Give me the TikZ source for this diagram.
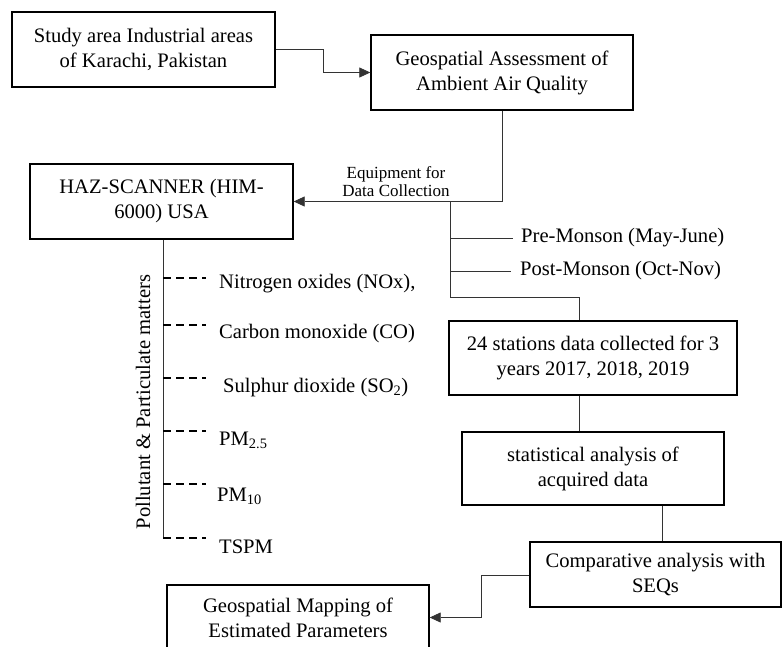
\documentclass[tikz,border=0pt]{standalone}
\usepackage{fontspec}
\setmainfont{Liberation Serif}
\usetikzlibrary{arrows.meta}

\begin{document}
\begin{tikzpicture}[x=1pt,y=-1pt,
    font=\fontsize{20.6}{25}\selectfont,
    box/.style={draw,line width=1.4pt,align=center,inner sep=0pt},
    conn/.style={line width=0.8pt,black!80},
    arr/.style={conn,-{Triangle[length=11pt,width=10pt]}},
    tick/.style={line width=1.4pt,dash pattern=on 8pt off 5pt}]
    \clip (0,0) rectangle (782,646);

    % boxes
    \node[box,minimum width=263pt,minimum height=75pt] (study) at (143.5,49.5) {Study area Industrial areas\\of Karachi, Pakistan};
    \node[box,minimum width=262pt,minimum height=75pt] (assess) at (502,72.5) {Geospatial Assessment of\\Ambient Air Quality};
    \node[box,minimum width=263pt,minimum height=75pt] (haz) at (161.5,201.5) {HAZ-SCANNER (HIM-\\6000) USA};
    \node[box,minimum width=288pt,minimum height=74pt] (stations) at (593,358) {24 stations data collected for 3\\years 2017, 2018, 2019};
    \node[box,minimum width=262pt,minimum height=73pt] (stat) at (593,468.5) {statistical analysis of\\acquired data};
    \node[box,minimum width=251pt,minimum height=65pt] (comp) at (655.5,574.5) {Comparative analysis with\\SEQs};
    \node[box,minimum width=262pt,minimum height=65pt] (mapping) at (298,617.5) {Geospatial Mapping of\\Estimated Parameters};

    \node[align=center,font=\fontsize{17}{18}\selectfont] (equip) at (396,182) {Equipment for\\Data Collection};
    \node[anchor=west,inner xsep=8pt] (pre) at (513,238) {Pre-Monson (May-June)};
    \node[anchor=west,inner xsep=9pt] (post) at (511,271) {Post-Monson (Oct-Nov)};
    \node[rotate=90] (pollab) at (143,402) {Pollutant \& Particulate matters};

    % connectors
    \draw[arr] (study.east) -- ++(48,0) |- (assess.west);
    \draw[arr] (assess.south) |- (haz.east);
    \coordinate (split) at (450,202);
    \coordinate (bend) at (450,297);
    \draw[conn] (split) -- (bend) -| ([xshift=-14pt]stations.north);
    \draw[conn] (split |- pre.west) -- (pre.west);
    \draw[conn] (split |- post.west) -- (post.west);
    \draw[conn] ([xshift=-14pt]stations.south) -- ([xshift=-14pt]stat.north);
    \draw[conn] ([xshift=69pt]stat.south) -- ([xshift=69pt]stat.south |- comp.north);
    \draw[arr] ([yshift=-0.5pt]comp.west) -- ++(-48,0) |- (mapping.east);

    % pollutants
    \coordinate (ptop) at ([xshift=1.5pt]haz.south);
    \coordinate (pend) at (163,538);
    \draw[conn] (ptop) -- (pend);
    \foreach \y/\by/\tx/\txt [count=\i] in {278/288/219/{Nitrogen oxides (NOx),},
        325/338/219/{Carbon monoxide (CO)},
        378/392/223/{Sulphur dioxide (SO\textsubscript{2})},
        431/445/219/{PM\textsubscript{2.5}},
        484/501/217/{PM\textsubscript{10}},
        538/553/219/TSPM}{
        \coordinate (t\i) at (163,\y);
        \draw[tick] (t\i) -- ++(43,0);
        \node[anchor=base west,inner sep=0pt] (pol\i) at (\tx,\by) {\txt};
    }
\end{tikzpicture}
\end{document}
